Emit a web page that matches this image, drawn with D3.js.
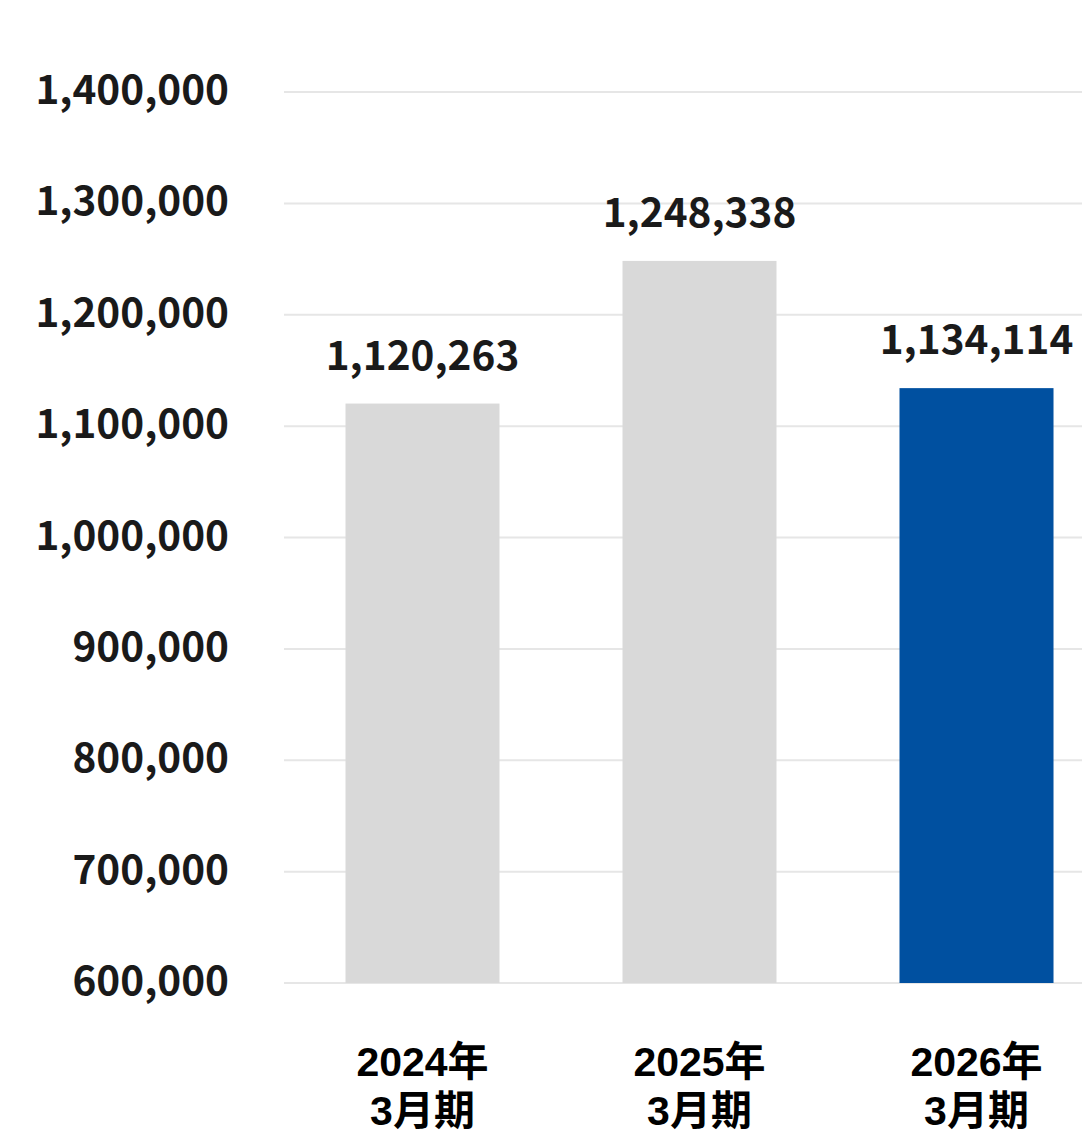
<!DOCTYPE html>
<html>
<head>
<meta charset="utf-8">
<script src="https://cdn.jsdelivr.net/npm/d3@7"></script>
<style>
  body { margin: 0; background: #fff; }
  text { font-family: "Noto Sans CJK JP", "Noto Sans", sans-serif; font-weight: 700; fill: #1a1a1a; }
  text.cat { font-family: "Liberation Sans", "Noto Sans CJK JP", sans-serif; fill: #000; }
</style>
</head>
<body>
<svg id="chart" width="1082" height="1134"></svg>
<script>
const categories = ["2024年\n3月期", "2025年\n3月期", "2026年\n3月期"];
const values = [1120263, 1248338, 1134114];
const barColors = ["#d9d9d9", "#d9d9d9", "#0050a0"];
const tickValues = [600000, 700000, 800000, 900000, 1000000, 1100000, 1200000, 1300000, 1400000];

const width = 1082, height = 1134;
const svg = d3.select("#chart");

const x = d3.scaleBand()
  .domain(categories)
  .range([284, 1115])
  .paddingInner(0.444)
  .paddingOuter(0.222);

const y = d3.scaleLinear()
  .domain([600000, 1400000])
  .range([983, 92]);

const fmt = d3.format(",");

// gridlines
svg.append("g")
  .selectAll("line")
  .data(tickValues)
  .enter().append("line")
    .attr("x1", 284)
    .attr("x2", width)
    .attr("y1", d => y(d))
    .attr("y2", d => y(d))
    .attr("stroke", "#e6e6e6")
    .attr("stroke-width", 2);

// y axis labels
svg.append("g")
  .selectAll("text")
  .data(tickValues)
  .enter().append("text")
    .attr("x", 229)
    .attr("y", d => y(d) + 12)
    .attr("text-anchor", "end")
    .attr("font-size", 40.5)
    .text(d => fmt(d));

// bars
svg.append("g")
  .selectAll("rect")
  .data(values)
  .enter().append("rect")
    .attr("x", (d, i) => x(categories[i]))
    .attr("width", x.bandwidth())
    .attr("y", d => y(d))
    .attr("height", d => y(600000) - y(d))
    .attr("fill", (d, i) => barColors[i]);

// value labels
svg.append("g")
  .selectAll("text")
  .data(values)
  .enter().append("text")
    .attr("x", (d, i) => x(categories[i]) + x.bandwidth() / 2)
    .attr("y", d => y(d) - 34)
    .attr("text-anchor", "middle")
    .attr("font-size", 40.5)
    .text(d => fmt(d));

// category labels (two lines)
const cat = svg.append("g")
  .selectAll("text")
  .data(categories)
  .enter().append("text")
    .attr("class", "cat")
    .attr("text-anchor", "middle")
    .attr("font-size", 41)
    .attr("transform", d => `translate(${x(d) + x.bandwidth() / 2},0)`);

cat.selectAll("tspan")
  .data(d => d.split("\n"))
  .enter().append("tspan")
    .attr("x", 0)
    .attr("y", (d, i) => 1076 + i * 49)
    .text(d => d);
</script>
</body>
</html>
